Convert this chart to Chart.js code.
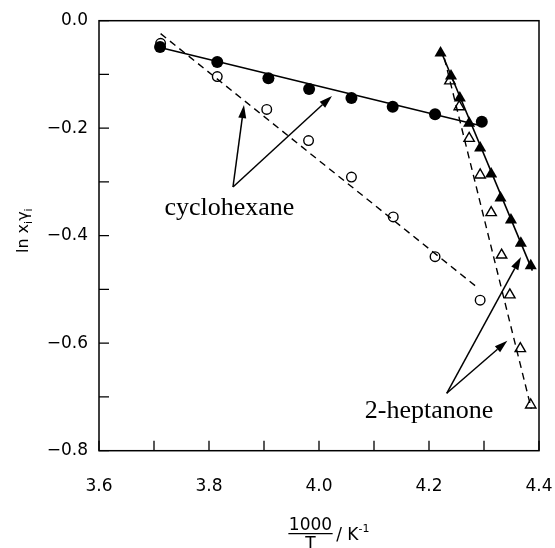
<!DOCTYPE html>
<html><head><meta charset="utf-8">
<script src="https://cdn.jsdelivr.net/npm/chart.js@4.4.1/dist/chart.umd.min.js"></script>
<style>html,body{margin:0;padding:0;background:#fff;}canvas{display:block;}</style>
</head><body>
<canvas id="c" width="555" height="548"></canvas>
<script>
// ---- data ----
const cyFilledX = [3.711, 3.815, 3.908, 3.982, 4.059, 4.134, 4.211, 4.296];
const cyFilledY = [-0.049, -0.077, -0.107, -0.127, -0.144, -0.160, -0.174, -0.188];
const cyOpenX   = [3.712, 3.815, 3.905, 3.981, 4.059, 4.135, 4.211, 4.293];
const cyOpenY   = [-0.042, -0.104, -0.165, -0.223, -0.291, -0.365, -0.439, -0.520];
const hpFilledX = [4.221, 4.240, 4.256, 4.273, 4.293, 4.313, 4.330, 4.349, 4.367, 4.385];
const hpFilledY = [-0.060, -0.103, -0.144, -0.191, -0.237, -0.285, -0.330, -0.371, -0.414, -0.456];
const hpOpenX   = [4.238, 4.255, 4.273, 4.293, 4.313, 4.332, 4.347, 4.366, 4.385];
const hpOpenY   = [-0.112, -0.160, -0.219, -0.287, -0.357, -0.436, -0.510, -0.610, -0.715];
// fitted lines (end points)
const cyFitX  = [3.711, 4.289];  const cyFitY  = [-0.050, -0.194];
const cyDashX = [3.712, 4.290];  const cyDashY = [-0.024, -0.498];
const hpFitX  = [4.221, 4.388];  const hpFitY  = [-0.055, -0.465];
const hpDashX = [4.228, 4.386];  const hpDashY = [-0.070, -0.722];
// axes
const xTickLabels = [3.6, 3.8, 4.0, 4.2, 4.4];
const yTickLabels = [0.0, -0.2, -0.4, -0.6, -0.8];
const xMinorTicks = [3.6, 3.7, 3.8, 3.9, 4.0, 4.1, 4.2, 4.3, 4.4];
const yMinorTicks = [0.0, -0.1, -0.2, -0.3, -0.4, -0.5, -0.6, -0.7, -0.8];
// annotations (data coordinates)
const annotations = [
  { text: 'cyclohexane', at: [3.837, -0.3615], from: [3.8436, -0.3094], tips: [[3.8636, -0.157], [4.0236, -0.1401]] },
  { text: '2-heptanone', at: [4.200, -0.739], from: [4.2322, -0.6932], tips: [[4.3673, -0.4397], [4.3424, -0.5953]] }
];

const pts = (xs, ys) => xs.map((x, i) => ({ x, y: ys[i] }));
const SANS = '"DejaVu Sans", sans-serif';
const SERIF = '"Liberation Serif", "Times New Roman", serif';

const fmt = v => {
  const r = Math.round(v * 10) / 10;
  if (Math.abs(r) < 1e-9) return '0.0';
  return r.toFixed(1).replace('-', '\u2212');
};

const decor = {
  id: 'decor',
  afterDatasetsDraw(chart) {
    const { ctx, chartArea: a, scales: { x, y } } = chart;
    ctx.save();
    ctx.strokeStyle = '#000'; ctx.fillStyle = '#000';
    // frame
    ctx.lineWidth = 1.5;
    ctx.strokeRect(a.left, a.top, a.right - a.left, a.bottom - a.top);
    // inward ticks
    ctx.lineWidth = 1.3;
    ctx.beginPath();
    xMinorTicks.forEach(v => { const px = x.getPixelForValue(v); ctx.moveTo(px, a.bottom); ctx.lineTo(px, a.bottom - 10); });
    yMinorTicks.forEach(v => { const py = y.getPixelForValue(v); ctx.moveTo(a.left, py); ctx.lineTo(a.left + 10, py); });
    ctx.stroke();
    // annotations
    annotations.forEach(an => {
      const fx = x.getPixelForValue(an.from[0]), fy = y.getPixelForValue(an.from[1]);
      an.tips.forEach(t => {
        const tx = x.getPixelForValue(t[0]), ty = y.getPixelForValue(t[1]);
        const ang = Math.atan2(ty - fy, tx - fx);
        const L = 13, W = 4;
        const bx = tx - L * Math.cos(ang), by = ty - L * Math.sin(ang);
        ctx.lineWidth = 1.5;
        ctx.beginPath(); ctx.moveTo(fx, fy); ctx.lineTo(bx, by); ctx.stroke();
        ctx.beginPath();
        ctx.moveTo(tx, ty);
        ctx.lineTo(bx + W * Math.sin(ang), by - W * Math.cos(ang));
        ctx.lineTo(bx - W * Math.sin(ang), by + W * Math.cos(ang));
        ctx.closePath(); ctx.fill();
      });
      ctx.font = '26px ' + SERIF;
      ctx.textAlign = 'center'; ctx.textBaseline = 'alphabetic';
      ctx.fillText(an.text, x.getPixelForValue(an.at[0]), y.getPixelForValue(an.at[1]));
    });
    // y title: ln x_i γ_i
    ctx.save();
    const cy = (a.top + a.bottom) / 2 - 5;
    ctx.translate(28, cy);
    ctx.rotate(-Math.PI / 2);
    ctx.textBaseline = 'alphabetic'; ctx.textAlign = 'left';
    const big = '16px ' + SANS, small = '11px ' + SANS;
    const parts = [['ln x', big, 0], ['i', small, 4], ['\u03b3', big, 0], ['i', small, 4]];
    let total = 0;
    parts.forEach(p => { ctx.font = p[1]; total += ctx.measureText(p[0]).width; });
    let cx = -total / 2;
    parts.forEach(p => { ctx.font = p[1]; ctx.fillText(p[0], cx, p[2]); cx += ctx.measureText(p[0]).width; });
    ctx.restore();
    // x title: 1000/T / K^-1
    const mid = (a.left + a.right) / 2;
    ctx.font = '17px ' + SANS; ctx.textAlign = 'center';
    const fracX = mid - 8.5;
    ctx.fillText('1000', fracX, a.bottom + 79.5);
    const w1000 = ctx.measureText('1000').width;
    ctx.lineWidth = 1.2;
    ctx.beginPath(); ctx.moveTo(fracX - w1000 / 2 - 0.5, a.bottom + 83); ctx.lineTo(fracX + w1000 / 2 + 0.5, a.bottom + 83); ctx.stroke();
    ctx.fillText('T', fracX, a.bottom + 98);
    ctx.textAlign = 'left';
    const sx = fracX + w1000 / 2 + 4;
    ctx.fillText('/ K', sx, a.bottom + 89);
    const wk = ctx.measureText('/ K').width;
    ctx.font = '11px ' + SANS;
    ctx.fillText('-1', sx + wk, a.bottom + 81);
    ctx.restore();
  }
};

new Chart(document.getElementById('c'), {
  type: 'scatter',
  data: {
    datasets: [
      { data: pts(cyFitX, cyFitY), showLine: true, borderColor: '#000', borderWidth: 1.6, pointRadius: 0 },
      { data: pts(cyDashX, cyDashY), showLine: true, borderColor: '#000', borderWidth: 1.4, borderDash: [7, 5], pointRadius: 0 },
      { data: pts(hpFitX, hpFitY), showLine: true, borderColor: '#000', borderWidth: 1.6, pointRadius: 0 },
      { data: pts(hpDashX, hpDashY), showLine: true, borderColor: '#000', borderWidth: 1.4, borderDash: [7, 5], pointRadius: 0 },
      { data: pts(cyFilledX, cyFilledY), pointStyle: 'circle', pointRadius: 6, backgroundColor: '#000', borderColor: '#000', borderWidth: 0 },
      { data: pts(cyOpenX, cyOpenY), pointStyle: 'circle', pointRadius: 4.8, backgroundColor: 'rgba(0,0,0,0)', borderColor: '#000', borderWidth: 1.4 },
      { data: pts(hpFilledX, hpFilledY), pointStyle: 'triangle', pointRadius: 7, backgroundColor: '#000', borderColor: '#000', borderWidth: 0 },
      { data: pts(hpOpenX, hpOpenY), pointStyle: 'triangle', pointRadius: 6, backgroundColor: 'rgba(0,0,0,0)', borderColor: '#000', borderWidth: 1.4 }
    ]
  },
  options: {
    responsive: false, animation: false, devicePixelRatio: 1,
    layout: { padding: { left: 0, right: 16, top: 20.7, bottom: 0 } },
    plugins: { legend: { display: false }, tooltip: { enabled: false } },
    scales: {
      x: {
        type: 'linear', min: 3.6, max: 4.4,
        grid: { display: false, drawTicks: false }, border: { display: false },
        afterBuildTicks: s => { s.ticks = xTickLabels.map(v => ({ value: v })); },
        afterFit: s => { s.height = 97.3; s.paddingLeft = 0; s.paddingRight = 0; },
        ticks: { color: '#000', font: { family: SANS, size: 17 }, padding: 26, maxRotation: 0, autoSkip: false, callback: v => fmt(v) }
      },
      y: {
        type: 'linear', min: -0.8, max: 0,
        grid: { display: false, drawTicks: false }, border: { display: false },
        afterBuildTicks: s => { s.ticks = yTickLabels.map(v => ({ value: v })); },
        afterFit: s => { s.width = 99; s.paddingTop = 0; s.paddingBottom = 0; },
        ticks: { color: '#000', font: { family: SANS, size: 17 }, padding: 11, autoSkip: false, callback: v => fmt(v) }
      }
    }
  },
  plugins: [decor]
});
</script>
</body></html>
